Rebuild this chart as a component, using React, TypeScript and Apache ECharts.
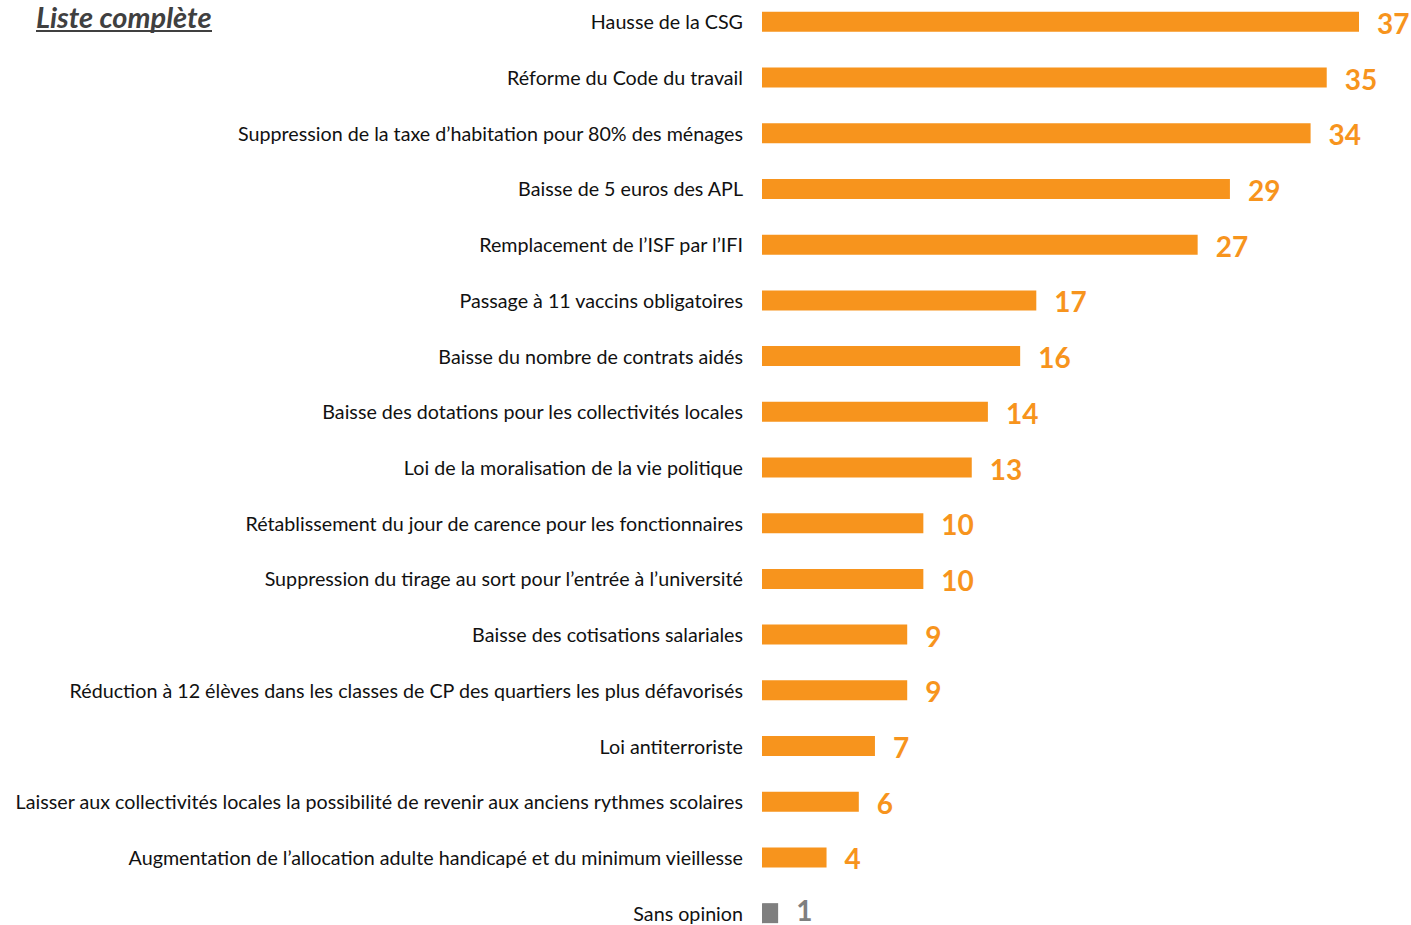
import React, { useEffect, useRef } from "react";
import * as echarts from "echarts";

const categories = [
  "Hausse de la CSG",
  "Réforme du Code du travail",
  "Suppression de la taxe d’habitation pour 80% des ménages",
  "Baisse de 5 euros des APL",
  "Remplacement de l’ISF par l’IFI",
  "Passage à 11 vaccins obligatoires",
  "Baisse du nombre de contrats aidés",
  "Baisse des dotations pour les collectivités locales",
  "Loi de la moralisation de la vie politique",
  "Rétablissement du jour de carence pour les fonctionnaires",
  "Suppression du tirage au sort pour l’entrée à l’université",
  "Baisse des cotisations salariales",
  "Réduction à 12 élèves dans les classes de CP des quartiers les plus défavorisés",
  "Loi antiterroriste",
  "Laisser aux collectivités locales la possibilité de revenir aux anciens rythmes scolaires",
  "Augmentation de l’allocation adulte handicapé et du minimum vieillesse",
  "Sans opinion",
];
const values = [37, 35, 34, 29, 27, 17, 16, 14, 13, 10, 10, 9, 9, 7, 6, 4, 1];
const title = "Liste complète";

const ORANGE = "#F7941D";
const GRAY = "#7F7F7F";

export default function App() {
  const ref = useRef<HTMLDivElement>(null);
  useEffect(() => {
    const chart = echarts.init(ref.current!, null, { renderer: "svg" });
    const n = categories.length;
    chart.setOption({
      animation: false,
      backgroundColor: "#ffffff",
      textStyle: { fontFamily: "Lato" },
      grid: { left: 762, width: 597, top: 0, height: 947, containLabel: false },
      xAxis: {
        type: "value",
        min: 0,
        max: 37,
        show: false,
      },
      yAxis: {
        type: "category",
        inverse: true,
        data: categories,
        axisLine: { show: false },
        axisTick: { show: false },
        axisLabel: {
          margin: 19,
          fontSize: 19.7,
          color: "#111111",
          fontFamily: "Lato",
          offset: [0, -2],
        },
      },
      graphic: [
        {
          type: "text",
          left: 36,
          top: 8,
          style: {
            text: title,
            font: "italic bold 29px Lato",
            fill: "#404040",
          },
        },
        {
          type: "rect",
          left: 36,
          top: 36,
          shape: { width: 176, height: 2 },
          style: { fill: "#404040" },
        },
      ],
      series: [
        {
          type: "bar",
          barWidth: 20,
          data: values.map((v, i) => ({
            value: v,
            itemStyle: { color: i === n - 1 ? GRAY : ORANGE },
            label:
              i === n - 1
                ? { color: GRAY, offset: [0, -3] }
                : { color: ORANGE },
          })),
          label: {
            show: true,
            position: "right",
            distance: 18,
            offset: [0, 1],
            fontSize: 28,
            lineHeight: 22,
            fontWeight: "bold",
            fontFamily: "Lato",
          },
        },
      ],
    });
    return () => chart.dispose();
  }, []);
  return (
    <div
      ref={ref}
      style={{ position: "fixed", left: 0, top: -6, width: 1411, height: 947 }}
    />
  );
}
